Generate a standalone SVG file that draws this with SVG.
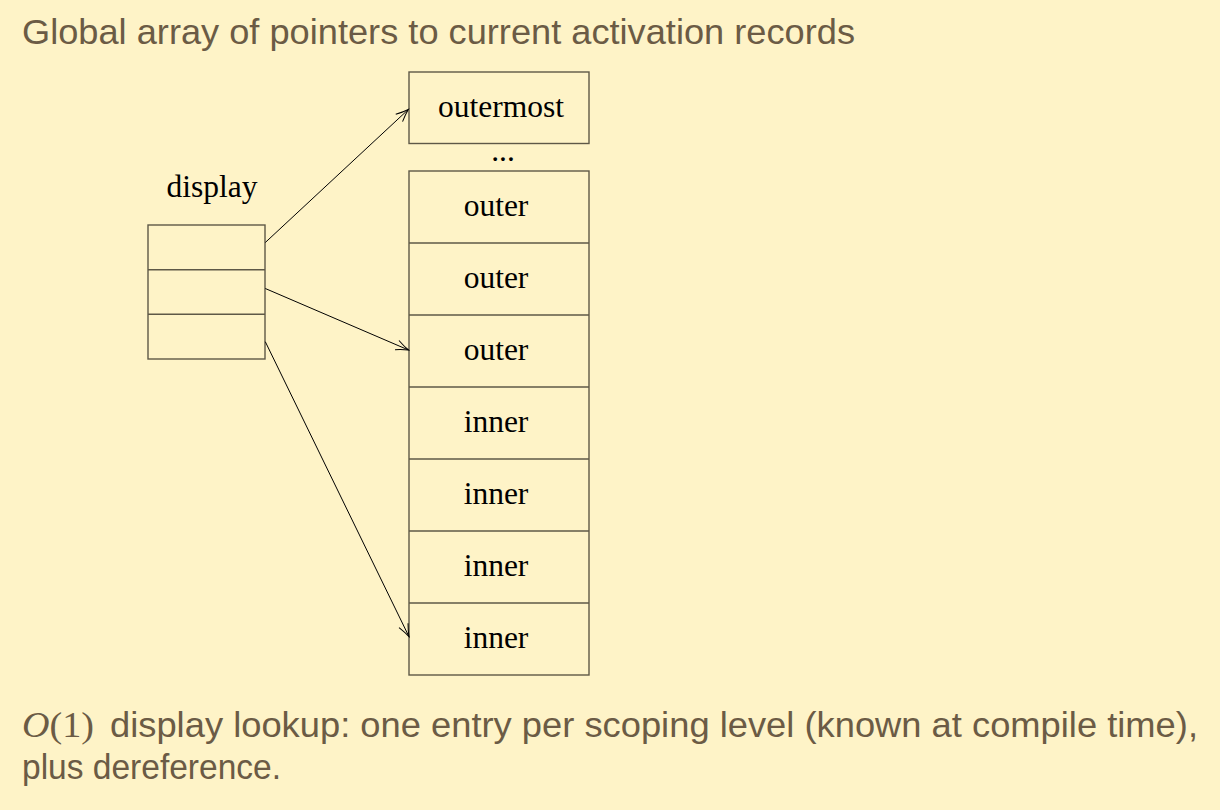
<svg xmlns="http://www.w3.org/2000/svg" width="1220" height="810" viewBox="0 0 1220 810">
<defs>
<style>
.bg{fill:#FEF3C7}
.cap{font-family:"Liberation Sans","DejaVu Sans",sans-serif;font-size:35px;fill:#6B5B45}
.math{font-family:"Liberation Serif","Times New Roman",serif;font-size:36px;fill:#6B5B45}
.lbl{font-family:"Liberation Serif","Times New Roman",serif;font-size:31.5px;fill:#000;text-anchor:middle}
.box{fill:none;stroke:#5E5847;stroke-width:1.4}
.edge{fill:none;stroke:#000;stroke-width:1}
</style>
<marker id="arr" viewBox="-14 -7 16 14" refX="0" refY="0" markerWidth="16" markerHeight="14" markerUnits="userSpaceOnUse" orient="auto">
<path d="M-12.5,-5 Q-5.5,-1.6 0,0 Q-5.5,1.6 -12.5,5" fill="none" stroke="#000" stroke-width="1"/>
</marker>
</defs>
<rect class="bg" x="0" y="0" width="1220" height="810"/>
<text class="cap" x="22" y="44" textLength="833" lengthAdjust="spacingAndGlyphs">Global array of pointers to current activation records</text>

<g id="display">
<text class="lbl" x="212" y="197">display</text>
<rect class="box" x="148" y="225" width="117" height="134"/>
<line class="box" x1="148" y1="269.7" x2="265" y2="269.7"/>
<line class="box" x1="148" y1="314.3" x2="265" y2="314.3"/>
</g>

<g id="outermost">
<rect class="box" x="409" y="72" width="180" height="71.5"/>
<text class="lbl" x="501" y="117">outermost</text>
</g>

<g id="ellipsis">
<text class="lbl" x="503" y="161">...</text>
</g>

<g id="stack">
<rect class="box" x="409" y="171" width="180" height="504"/>
<line class="box" x1="409" y1="243" x2="589" y2="243"/>
<line class="box" x1="409" y1="315" x2="589" y2="315"/>
<line class="box" x1="409" y1="387" x2="589" y2="387"/>
<line class="box" x1="409" y1="459" x2="589" y2="459"/>
<line class="box" x1="409" y1="531" x2="589" y2="531"/>
<line class="box" x1="409" y1="603" x2="589" y2="603"/>
<text class="lbl" x="496" y="216">outer</text>
<text class="lbl" x="496" y="288">outer</text>
<text class="lbl" x="496" y="360">outer</text>
<text class="lbl" x="496" y="432">inner</text>
<text class="lbl" x="496" y="504">inner</text>
<text class="lbl" x="496" y="576">inner</text>
<text class="lbl" x="496" y="648">inner</text>
</g>

<g id="connectors">
<line class="edge" x1="265.3" y1="242.5" x2="408.3" y2="109.5" marker-end="url(#arr)"/>
<line class="edge" x1="265.3" y1="288.5" x2="408.5" y2="350" marker-end="url(#arr)"/>
<line class="edge" x1="265.3" y1="341.7" x2="409" y2="636.7" marker-end="url(#arr)"/>
</g>

<g id="footer">
<text class="math" x="22" y="737" textLength="72" lengthAdjust="spacingAndGlyphs"><tspan font-style="italic">O</tspan>(1)</text>
<text class="cap" x="110" y="737" textLength="1088" lengthAdjust="spacingAndGlyphs">display lookup: one entry per scoping level (known at compile time),</text>
<text class="cap" x="22" y="779" textLength="259" lengthAdjust="spacingAndGlyphs">plus dereference.</text>
</g>
</svg>
